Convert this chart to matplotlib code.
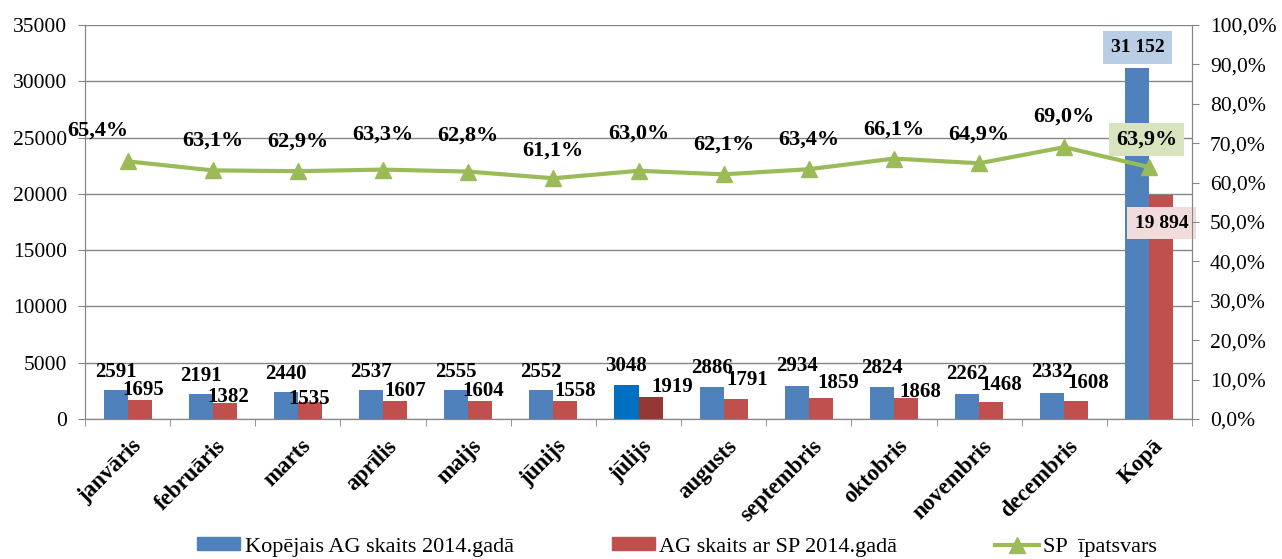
import matplotlib
matplotlib.use("Agg")
import matplotlib.pyplot as plt
import matplotlib.transforms as mtransforms
from matplotlib.patches import Patch
from matplotlib.lines import Line2D
import numpy as np

plt.rcParams['font.family'] = ['Liberation Serif', 'DejaVu Serif']

# data
months = ['janvāris', 'februāris', 'marts', 'aprīlis', 'maijs', 'jūnijs', 'jūlijs',
          'augusts', 'septembris', 'oktobris', 'novembris', 'decembris', 'Kopā']
total_ag = [2591, 2191, 2440, 2537, 2555, 2552, 3048, 2886, 2934, 2824, 2262, 2332, 31152]
ag_sp = [1695, 1382, 1535, 1607, 1604, 1558, 1919, 1791, 1859, 1868, 1468, 1608, 19894]
sp_share = [65.4, 63.1, 62.9, 63.3, 62.8, 61.1, 63.0, 62.1, 63.4, 66.1, 64.9, 69.0, 63.9]

blue_lbl = ['2591', '2191', '2440', '2537', '2555', '2552', '3048', '2886', '2934',
            '2824', '2262', '2332', '31 152']
red_lbl = ['1695', '1382', '1535', '1607', '1604', '1558', '1919', '1791', '1859',
           '1868', '1468', '1608', '19 894']
pct_lbl = ['65,4%', '63,1%', '62,9%', '63,3%', '62,8%', '61,1%', '63,0%', '62,1%',
           '63,4%', '66,1%', '64,9%', '69,0%', '63,9%']

# label nudges in pixels (label centre relative to bar top / marker)
blue_dy = [18, 18, 18, 18, 18, 18, 19, 19, 20, 19, 20, 21, 21]
red_dx = [4, 4, -1, 10, 3, 10, 22, 12, 17, 14, 10, 12, 0]
red_dy = [10, 6, 3, 10, 10, 10, 10, 19, 15, 6, 17, 18, -28]
pct_dx = [-30, 0, 0, 0, 0, 0, 0, 0, 0, 0, 0, 0, -3]
pct_dy = [31, 30, 30, 35, 36, 28, 37, 30, 30, 29, 29, 31, 28]

blue = '#4F81BD'
red = '#C0504D'
green = '#9BBB59'
grey = '#868686'
PX = 0.72  # px -> pt at dpi 100

fig = plt.figure(figsize=(12.82, 5.59), dpi=100)
ax = fig.add_axes([85/1282, 1-419/559, (1192-85)/1282, (419-25)/559])
ax2 = ax.twinx()

x = np.arange(len(months))
w = 0.282
blue_cols = [blue]*len(months)
red_cols = [red]*len(months)
blue_cols[6] = '#0070C0'
red_cols[6] = '#953735'

ax.bar(x - w/2, total_ag, w, color=blue_cols, zorder=2)
ax.bar(x + w/2, ag_sp, w, color=red_cols, zorder=2)

ax.set_xlim(-0.5, len(months) - 0.5)
ax.set_ylim(0, 35000)
ax.set_yticks(range(0, 35001, 5000))
ax.grid(axis='y', color=grey, linewidth=1, zorder=0)
ax.set_axisbelow(True)

ax.spines['top'].set_visible(False)
ax2.spines['top'].set_visible(False)
for s in ['left', 'right', 'bottom']:
    ax.spines[s].set_color(grey)
    ax2.spines[s].set_color(grey)

ax.tick_params(axis='y', direction='out', length=5, color=grey, labelsize=15.5, pad=8)
ax.set_xticks(x)
ax.set_xticks(np.arange(-0.5, len(months), 1), minor=True)
ax.tick_params(axis='x', which='major', length=0, pad=12)
ax.tick_params(axis='x', which='minor', length=5, color=grey, direction='out')
ax.set_xticklabels(months, rotation=45, ha='right', rotation_mode='anchor',
                   fontsize=16.5, fontweight='bold')
shift = mtransforms.ScaledTranslation(3/100, 0, fig.dpi_scale_trans)
for lab in ax.get_xticklabels():
    lab.set_transform(lab.get_transform() + shift)

# line on secondary axis
ax2.plot(x, sp_share, color=green, linewidth=3, marker='^', markersize=12,
         markeredgecolor=green, zorder=5)
ax2.set_ylim(0, 100)
ax2.set_yticks(range(0, 101, 10))
ax2.set_yticklabels([f'{v},0%' for v in range(0, 101, 10)])
ax2.tick_params(axis='y', direction='out', length=5, color=grey, labelsize=15.5, pad=8)

# bar labels
for i in range(len(months)):
    kw = dict(textcoords='offset points', ha='center', va='center',
              fontsize=15, fontweight='bold', zorder=6)
    if i == len(months) - 1:
        ax.annotate(blue_lbl[i], (x[i] - w/2, total_ag[i]), xytext=(0, blue_dy[i]*PX),
                    bbox=dict(boxstyle='square,pad=0.4', fc='#B9CDE5', ec='none'),
                    **{**kw, 'fontsize': 14})
        ax.annotate(red_lbl[i], (x[i] + w/2, ag_sp[i]), xytext=(red_dx[i]*PX, red_dy[i]*PX),
                    bbox=dict(boxstyle='square,pad=0.4', fc='#F2DCDB', ec='none'),
                    **{**kw, 'fontsize': 14})
    else:
        ax.annotate(blue_lbl[i], (x[i] - w/2, total_ag[i]), xytext=(0, blue_dy[i]*PX), **kw)
        ax.annotate(red_lbl[i], (x[i] + w/2, ag_sp[i]),
                    xytext=(red_dx[i]*PX, red_dy[i]*PX), **kw)

for i in range(len(months)):
    kw = dict(textcoords='offset points', ha='center', va='center',
              fontsize=16, fontweight='bold', zorder=7)
    if i == len(months) - 1:
        kw['bbox'] = dict(boxstyle='square,pad=0.3', fc='#D7E4BD', ec='none')
    ax2.annotate(pct_lbl[i], (x[i], sp_share[i]), xytext=(pct_dx[i]*PX, pct_dy[i]*PX), **kw)

handles = [Patch(color=blue), Patch(color=red),
           Line2D([], [], color=green, linewidth=3, marker='^', markersize=12)]
names = ['Kopējais AG skaits 2014.gadā', 'AG skaits ar SP 2014.gadā', 'SP  īpatsvars']
fig.legend(handles, names, loc='center', bbox_to_anchor=(677/1282, 1-547/559), ncol=3,
           frameon=False, fontsize=16, handlelength=1.95, handleheight=0.5,
           handletextpad=0.2, columnspacing=4.4)

fig.savefig('out.png', dpi=100)
